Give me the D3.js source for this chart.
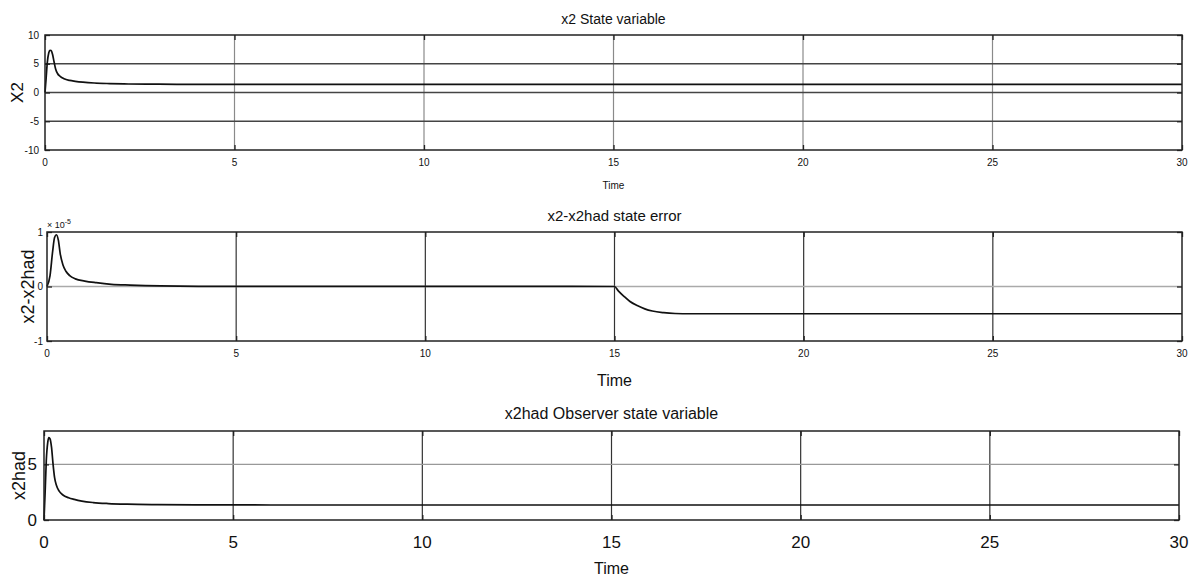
<!DOCTYPE html>
<html>
<head>
<meta charset="utf-8">
<title>x2 observer</title>
<script src="https://d3js.org/d3.v7.min.js"></script>
<style>
  body { margin: 0; background: #fff; }
  text { font-family: "Liberation Sans Narrow", "Liberation Sans", Arial, sans-serif; fill: #111; }
  .box { fill: none; stroke: #222; stroke-width: 1.5px; }
  .trace { fill: none; stroke: #111; stroke-width: 1.7px; }
</style>
</head>
<body>
<script>
// time axis ticks shared by all panels
var timeTicks = [0, 5, 10, 15, 20, 25, 30];

// x2 state variable
var x2Time  = [0, 0.03, 0.06, 0.1, 0.13, 0.16, 0.2, 0.24, 0.28, 0.33, 0.4, 0.5, 0.65, 0.8, 1.0, 1.3, 1.7, 2.2, 3, 4, 6, 30];
var x2Value = [0, 2.5, 5.2, 6.9, 7.35, 7.3, 6.6, 5.3, 4.1, 3.3, 2.8, 2.4, 2.1, 1.95, 1.8, 1.65, 1.55, 1.48, 1.44, 1.42, 1.4, 1.4];

// x2 - x2had state error (x 1e-5)
var errTime  = [0, 0.08, 0.15, 0.2, 0.25, 0.3, 0.35, 0.42, 0.5, 0.6, 0.75, 1.0, 1.3, 1.7, 2.2, 3, 4, 15,
                15.1, 15.25, 15.4, 15.6, 15.8, 16.0, 16.3, 16.6, 17, 30];
var errValue = [0, 0.2, 0.65, 0.9, 0.95, 0.85, 0.6, 0.4, 0.28, 0.2, 0.14, 0.1, 0.07, 0.04, 0.025, 0.01, 0.004, 0.0,
                -0.08, -0.18, -0.27, -0.35, -0.41, -0.45, -0.48, -0.495, -0.5, -0.5];

// x2had observer state variable
var obsTime  = [0, 0.03, 0.06, 0.1, 0.13, 0.16, 0.2, 0.24, 0.28, 0.33, 0.4, 0.5, 0.65, 0.8, 1.0, 1.3, 1.7, 2.2, 3, 4, 6, 30];
var obsValue = [0, 2.5, 5.3, 7.0, 7.4, 7.3, 6.5, 5.0, 3.8, 3.1, 2.6, 2.25, 2.0, 1.85, 1.7, 1.57, 1.48, 1.42, 1.38, 1.36, 1.35, 1.35];

var x2Ticks  = [-10, -5, 0, 5, 10];
var errTicks = [-1, 0, 1];
var obsTicks = [0, 5];

var W = 1200, H = 585;
var svg = d3.select("body").append("svg").attr("width", W).attr("height", H);

function zip(t, v) {
  return t.map(function(d, i) { return {t: d, v: v[i]}; });
}

function drawPanel(p) {
  var x = d3.scaleLinear().domain([0, 30]).range([p.left, p.right]);
  var y = d3.scaleLinear().domain(p.yDomain).range([p.bottom, p.top]);
  var g = svg.append("g");

  // vertical grid
  g.selectAll(".vg").data(timeTicks.slice(1, -1)).enter().append("line")
    .attr("x1", function(d) { return x(d); }).attr("x2", function(d) { return x(d); })
    .attr("y1", p.top).attr("y2", p.bottom)
    .attr("stroke", p.vGrid).attr("stroke-width", 1.2);

  // horizontal grid
  g.selectAll(".hg").data(p.yTicks.filter(function(d) { return d > p.yDomain[0] && d < p.yDomain[1]; }))
    .enter().append("line")
    .attr("x1", p.left).attr("x2", p.right)
    .attr("y1", function(d) { return y(d); }).attr("y2", function(d) { return y(d); })
    .attr("stroke", p.hGrid).attr("stroke-width", p.hWidth);

  // inward tick marks
  var xb = d3.axisBottom(x).tickValues(timeTicks).tickSize(-5).tickFormat("");
  var xt = d3.axisTop(x).tickValues(timeTicks).tickSize(-5).tickFormat("");
  var yl = d3.axisLeft(y).tickValues(p.yTicks).tickSize(-5).tickFormat("");
  var yr = d3.axisRight(y).tickValues(p.yTicks).tickSize(-5).tickFormat("");
  [[xb, "translate(0," + p.bottom + ")"], [xt, "translate(0," + p.top + ")"],
   [yl, "translate(" + p.left + ",0)"], [yr, "translate(" + p.right + ",0)"]].forEach(function(a) {
    var ax = g.append("g").attr("transform", a[1]).call(a[0]);
    ax.select(".domain").remove();
    ax.selectAll("line").attr("stroke", "#222").attr("stroke-width", 1.3);
  });

  // data line
  var line = d3.line().x(function(d) { return x(d.t); }).y(function(d) { return y(d.v); })
    .curve(d3.curveMonotoneX);
  g.append("path").attr("class", "trace").attr("d", line(zip(p.t, p.v)));

  g.append("rect").attr("class", "box")
    .attr("x", p.left).attr("y", p.top)
    .attr("width", p.right - p.left).attr("height", p.bottom - p.top);

  // tick labels
  g.selectAll(".xl").data(timeTicks).enter().append("text")
    .attr("x", function(d) { return x(d); }).attr("y", p.bottom + p.xLabDy)
    .attr("text-anchor", "middle").style("font-size", p.tickFont + "px")
    .text(function(d) { return d; });
  g.selectAll(".yl").data(p.yTicks).enter().append("text")
    .attr("x", p.left - p.yLabDx).attr("y", function(d) { return y(d); })
    .attr("dy", "0.35em").attr("text-anchor", "end").style("font-size", p.tickFont + "px")
    .text(function(d) { return d; });

  // titles
  g.append("text").attr("x", (p.left + p.right) / 2).attr("y", p.titleY)
    .attr("text-anchor", "middle").style("font-size", p.titleFont + "px").text(p.title);
  g.append("text").attr("x", (p.left + p.right) / 2).attr("y", p.timeY)
    .attr("text-anchor", "middle").style("font-size", p.timeFont + "px").text("Time");
  g.append("text")
    .attr("transform", "translate(" + p.yTitleX + "," + ((p.top + p.bottom) / 2) + ") rotate(-90)")
    .attr("text-anchor", "middle").style("font-size", p.yTitleFont + "px").text(p.yTitle);
  return g;
}

drawPanel({
  t: x2Time, v: x2Value, yDomain: [-10, 10], yTicks: x2Ticks,
  left: 45, right: 1182, top: 35, bottom: 150,
  vGrid: "#8a8a8a", hGrid: "#444", hWidth: 1.3,
  tickFont: 10, xLabDy: 16, yLabDx: 6,
  title: "x2 State variable", titleY: 24, titleFont: 14,
  timeY: 189, timeFont: 10,
  yTitle: "X2", yTitleX: 23, yTitleFont: 17
});

var mid = drawPanel({
  t: errTime, v: errValue, yDomain: [-1, 1], yTicks: errTicks,
  left: 47, right: 1182, top: 232, bottom: 341,
  vGrid: "#333", hGrid: "#aaa", hWidth: 1.4,
  tickFont: 10, xLabDy: 16, yLabDx: 4,
  title: "x2-x2had state error", titleY: 221, titleFont: 15,
  timeY: 386, timeFont: 16,
  yTitle: "x2-x2had", yTitleX: 34, yTitleFont: 18
});
mid.append("text").attr("x", 47).attr("y", 228).style("font-size", "9px")
  .text("\u00d7 10").append("tspan").attr("dy", -4).style("font-size", "7px").text("-5");

drawPanel({
  t: obsTime, v: obsValue, yDomain: [0, 8], yTicks: obsTicks,
  left: 44, right: 1179, top: 431, bottom: 520,
  vGrid: "#333", hGrid: "#999", hWidth: 1.4,
  tickFont: 17, xLabDy: 28, yLabDx: 7,
  title: "x2had Observer state variable", titleY: 419, titleFont: 16,
  timeY: 574, timeFont: 16,
  yTitle: "x2had", yTitleX: 25, yTitleFont: 18
});
</script>
</body>
</html>
